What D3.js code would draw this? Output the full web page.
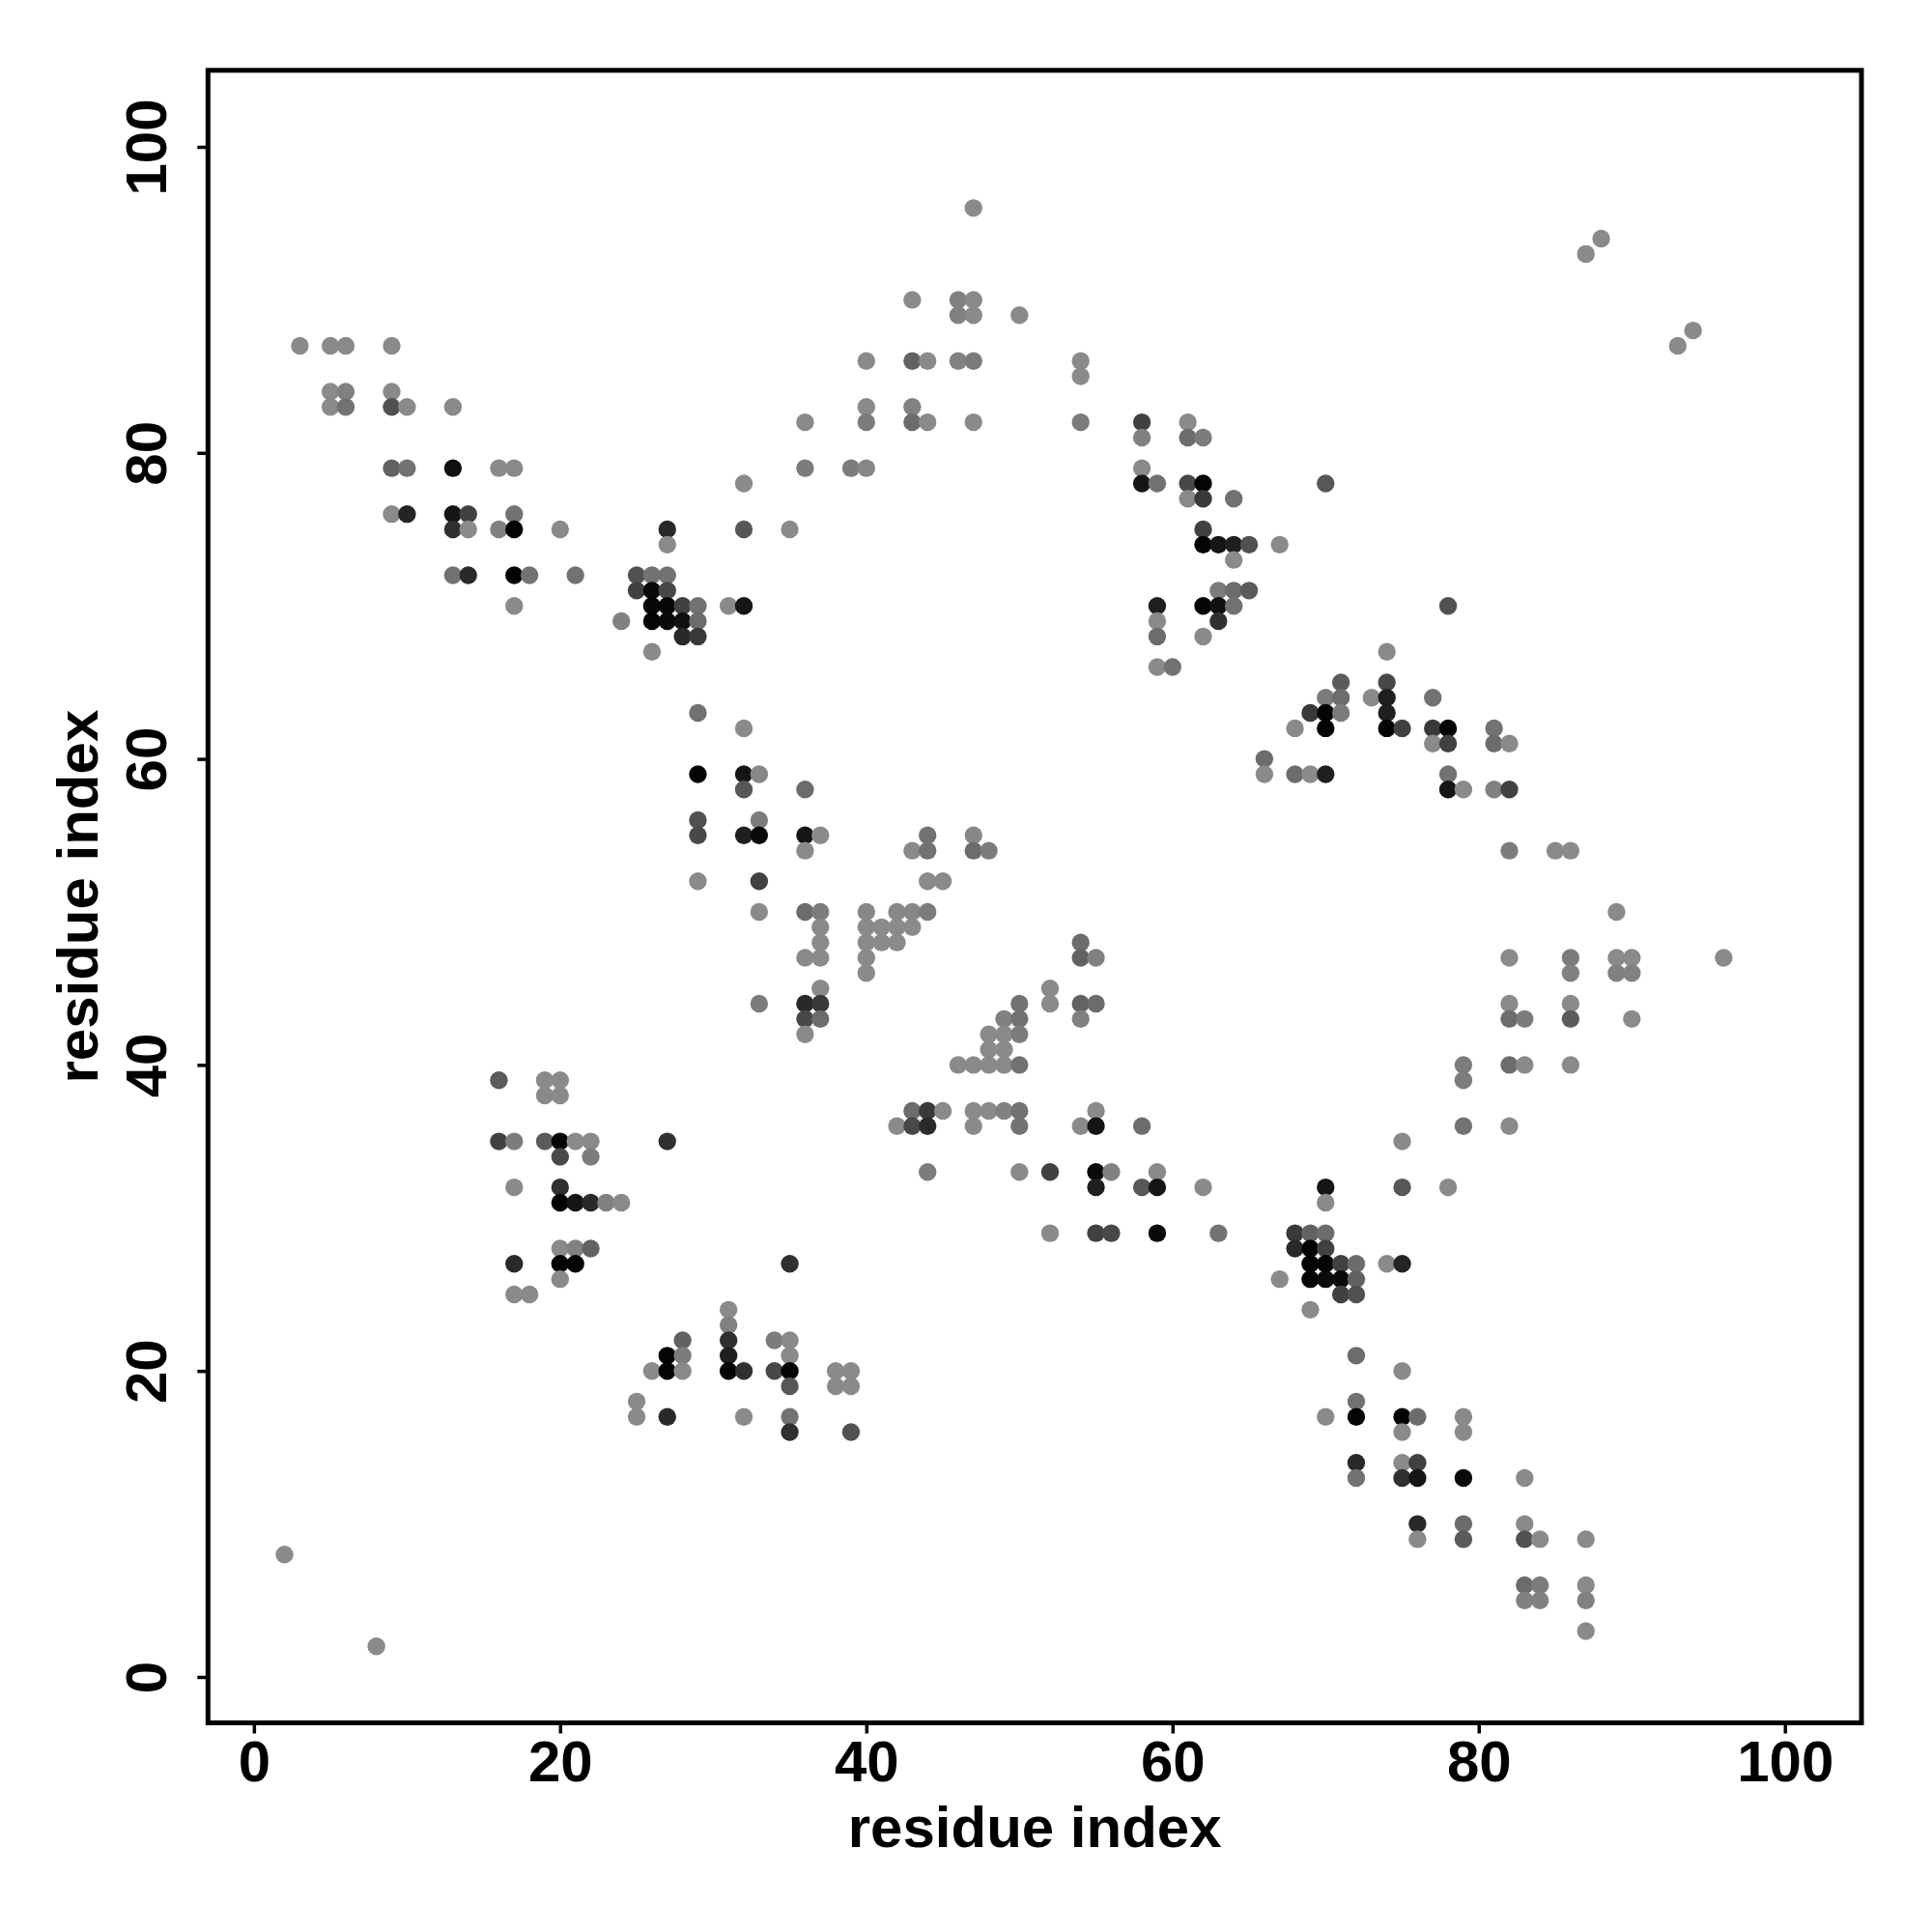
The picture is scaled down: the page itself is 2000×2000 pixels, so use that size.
<!DOCTYPE html>
<html>
<head>
<meta charset="utf-8">
<script src="https://cdn.jsdelivr.net/npm/d3@7"></script>
<style>
  html, body { margin: 0; padding: 0; background: #fff; }
  svg { display: block; }
  text { font-family: "Liberation Sans", Arial, Helvetica, sans-serif; font-weight: bold; }
</style>
</head>
<body>
<div id="chart"></div>
<script>
// residue i, residue j, contact score (0 = weak/light grey, 1 = strong/black)
const contacts = [
  [3,87,0.03],[5,87,0.03],[6,87,0.03],[9,87,0.03],
  [5,84,0.03],[6,84,0.09],[9,84,0.03],
  [5,83,0.03],[6,83,0.2],[9,83,0.43],[10,83,0.03],[13,83,0.03],
  [9,79,0.31],[10,79,0.2],[13,79,0.89],[16,79,0.03],[17,79,0.03],
  [9,76,0.03],[10,76,0.75],[13,76,0.85],[14,76,0.54],[17,76,0.2],
  [13,75,0.66],[14,75,0.03],[16,75,0.09],[17,75,0.97],[20,75,0.03],
  [13,72,0.2],[14,72,0.71],[17,72,0.97],[18,72,0.2],[21,72,0.2],
  [17,70,0.03],[24,69,0.09],
  [47,96,0.03],
  [43,90,0.03],[46,90,0.09],[47,90,0.03],
  [46,89,0.09],[47,89,0.03],
  [40,86,0.03],[43,86,0.31],[44,86,0.03],[46,86,0.09],[47,86,0.13],
  [40,83,0.03],[43,83,0.09],
  [36,82,0.03],[40,82,0.13],[43,82,0.24],[44,82,0.03],[47,82,0.03],
  [36,79,0.13],[39,79,0.13],[40,79,0.05],
  [32,78,0.03],
  [27,75,0.71],[32,75,0.39],[35,75,0.03],
  [27,74,0.03],
  [25,72,0.43],[26,72,0.2],[27,72,0.2],
  [25,71,0.54],[26,71,0.93],[27,71,0.49],
  [26,70,0.95],[27,70,0.95],[28,70,0.54],[29,70,0.2],[31,70,0.03],[32,70,0.85],
  [26,69,0.97],[27,69,0.93],[28,69,0.89],[29,69,0.24],
  [28,68,0.71],[29,68,0.6],
  [26,67,0.03],
  [50,89,0.03],[54,86,0.03],[54,85,0.03],
  [54,82,0.13],[58,82,0.54],[61,82,0.03],
  [58,81,0.09],[61,81,0.24],[62,81,0.13],
  [58,79,0.03],
  [58,78,0.85],[59,78,0.2],[61,78,0.49],[62,78,0.97],[70,78,0.39],
  [61,77,0.03],[62,77,0.6],[64,77,0.2],
  [62,75,0.54],
  [62,74,0.97],[63,74,0.85],[64,74,0.78],[65,74,0.43],[67,74,0.03],
  [64,73,0.03],
  [63,71,0.13],[64,71,0.24],[65,71,0.36],
  [59,70,0.78],[62,70,0.97],[63,70,0.89],[64,70,0.2],
  [59,69,0.03],[63,69,0.66],
  [59,68,0.24],[62,68,0.03],
  [59,66,0.03],[60,66,0.2],
  [71,65,0.36],
  [88,94,0.03],[87,93,0.03],[94,88,0.03],[93,87,0.03],
  [78,70,0.43],[74,67,0.03],[74,65,0.49],
  [16,39,0.36],[19,39,0.03],[20,39,0.03],
  [19,38,0.03],[20,38,0.03],
  [16,35,0.54],[17,35,0.13],[19,35,0.36],[20,35,0.97],[21,35,0.03],[22,35,0.03],
  [20,34,0.49],[22,34,0.13],
  [29,63,0.2],[32,62,0.03],
  [29,59,0.97],[32,59,0.85],[33,59,0.05],
  [32,58,0.39],[36,58,0.24],
  [29,56,0.43],[33,56,0.13],
  [29,55,0.49],[32,55,0.78],[33,55,0.93],[36,55,0.85],[37,55,0.03],
  [36,54,0.03],
  [44,55,0.2],[47,55,0.05],
  [43,54,0.03],[44,54,0.2],[47,54,0.24],[48,54,0.13],
  [29,52,0.03],[33,52,0.54],[44,52,0.03],[45,52,0.03],
  [33,50,0.03],[36,50,0.24],[37,50,0.13],[40,50,0.05],[42,50,0.05],[43,50,0.05],[44,50,0.13],
  [37,49,0.03],[40,49,0.03],[41,49,0.03],[42,49,0.03],[43,49,0.03],
  [37,48,0.03],[40,48,0.03],[41,48,0.03],[42,48,0.03],
  [36,47,0.03],[37,47,0.03],[40,47,0.03],
  [40,46,0.03],[37,45,0.03],
  [33,44,0.13],[36,44,0.71],[37,44,0.6],
  [36,43,0.49],[37,43,0.24],
  [36,42,0.03],
  [48,42,0.03],[48,41,0.03],[46,40,0.03],[47,40,0.03],[48,40,0.03],
  [43,37,0.24],[44,37,0.6],[45,37,0.03],[47,37,0.03],[48,37,0.03],
  [42,36,0.03],[43,36,0.49],[44,36,0.7],[47,36,0.03],
  [27,35,0.66],[44,33,0.13],
  [70,64,0.13],[71,64,0.24],[73,64,0.03],
  [69,63,0.6],[70,63,0.97],[71,63,0.13],
  [68,62,0.03],[70,62,0.97],
  [66,60,0.24],
  [66,59,0.03],[68,59,0.24],[69,59,0.03],[70,59,0.78],
  [54,48,0.24],[54,47,0.31],[55,47,0.09],
  [52,45,0.03],
  [52,44,0.03],[54,44,0.31],[55,44,0.24],
  [54,43,0.09],
  [50,44,0.2],[49,43,0.09],[50,43,0.2],
  [49,42,0.03],[50,42,0.13],
  [49,41,0.03],
  [49,40,0.03],[50,40,0.2],
  [49,37,0.09],[50,37,0.2],[50,36,0.2],
  [55,37,0.03],[54,36,0.03],[55,36,0.85],[58,36,0.24],
  [50,33,0.03],[52,33,0.54],[55,33,0.93],[56,33,0.09],[59,33,0.03],
  [74,64,0.78],[77,64,0.2],
  [74,63,0.78],
  [74,62,0.97],[75,62,0.54],[77,62,0.6],[78,62,0.97],[81,62,0.2],
  [77,61,0.03],[78,61,0.54],[81,61,0.24],[82,61,0.03],
  [78,59,0.2],
  [78,58,0.85],[79,58,0.03],[81,58,0.09],[82,58,0.54],
  [82,54,0.13],[85,54,0.03],[86,54,0.03],
  [89,50,0.03],
  [82,47,0.03],[86,47,0.13],[89,47,0.03],[90,47,0.03],[96,47,0.03],
  [86,46,0.09],[89,46,0.09],[90,46,0.09],
  [82,44,0.03],[86,44,0.03],
  [82,43,0.24],[83,43,0.13],[86,43,0.36],[90,43,0.03],
  [79,40,0.13],[82,40,0.24],[83,40,0.03],[86,40,0.03],
  [79,39,0.13],
  [79,36,0.2],[82,36,0.03],
  [75,35,0.03],
  [17,32,0.03],[20,32,0.66],
  [20,31,0.97],[21,31,0.85],[22,31,0.71],[23,31,0.09],[24,31,0.03],
  [20,28,0.03],[21,28,0.09],[22,28,0.31],
  [17,27,0.71],[20,27,0.97],[21,27,0.97],
  [20,26,0.03],
  [17,25,0.03],[18,25,0.03],
  [25,18,0.03],[25,17,0.03],
  [2,8,0.03],[8,2,0.03],
  [35,27,0.66],
  [31,24,0.03],[31,23,0.09],
  [28,22,0.31],[31,22,0.66],[34,22,0.13],[35,22,0.03],
  [27,21,0.97],[28,21,0.13],[31,21,0.78],[35,21,0.03],
  [26,20,0.03],[27,20,0.97],[28,20,0.03],[31,20,0.97],[32,20,0.66],[34,20,0.49],[35,20,0.97],[38,20,0.03],[39,20,0.03],
  [35,19,0.39],[38,19,0.03],[39,19,0.03],
  [27,17,0.71],[32,17,0.03],[35,17,0.2],
  [35,16,0.66],[39,16,0.43],
  [55,32,0.78],[58,32,0.39],[59,32,0.85],[62,32,0.03],[70,32,0.85],
  [70,31,0.03],
  [52,29,0.03],[55,29,0.54],[56,29,0.49],[59,29,0.93],[63,29,0.2],[68,29,0.6],[69,29,0.31],[70,29,0.24],
  [68,28,0.71],[69,28,0.97],[70,28,0.54],
  [69,27,0.97],[70,27,0.97],[71,27,0.54],[72,27,0.24],
  [67,26,0.03],[69,26,0.97],[70,26,0.93],[71,26,0.93],[72,26,0.31],
  [71,25,0.54],[72,25,0.43],
  [69,24,0.03],
  [72,21,0.24],[72,18,0.2],
  [70,17,0.03],[72,17,0.97],
  [72,14,0.71],[72,13,0.2],
  [75,32,0.39],[78,32,0.03],
  [74,27,0.03],[75,27,0.75],
  [75,20,0.03],
  [75,17,0.97],[76,17,0.24],[79,17,0.03],
  [75,16,0.03],[79,16,0.03],
  [75,14,0.03],[76,14,0.54],
  [75,13,0.66],[76,13,0.85],[79,13,0.93],[83,13,0.03],
  [76,10,0.71],[79,10,0.24],[83,10,0.03],
  [76,9,0.03],[79,9,0.36],[83,9,0.43],[84,9,0.03],[87,9,0.03],
  [83,6,0.24],[84,6,0.13],[87,6,0.03],
  [83,5,0.09],[84,5,0.09],[87,5,0.09],
  [87,3,0.03]
];
const xTicks = [0, 20, 40, 60, 80, 100];
const yTicks = [0, 20, 40, 60, 80, 100];
const xLabel = "residue index";
const yLabel = "residue index";

const W = 2000, H = 2000;
const svg = d3.select("#chart").append("svg").attr("width", W).attr("height", H);

const x = d3.scaleLinear().domain([-3, 105]).range([215.3, 1927]);
const y = d3.scaleLinear().domain([-3, 105]).range([1783.5, 72.8]);
const shade = d3.scaleLinear().domain([0, 1]).range(["#8e8e8e", "#000000"]);

// points
svg.append("g").selectAll("circle").data(contacts).join("circle")
  .attr("cx", d => x(d[0]))
  .attr("cy", d => y(d[1]))
  .attr("r", 9.2)
  .attr("fill", d => shade(d[2]));

// x axis
const gx = svg.append("g").attr("transform", `translate(0,${y.range()[0]})`)
  .call(d3.axisBottom(x).tickValues(xTicks).tickSize(11).tickPadding(7).tickFormat(d3.format("d")));
gx.select(".domain").remove();
gx.selectAll(".tick line").attr("stroke", "#000").attr("stroke-width", 3.5);
gx.selectAll(".tick text").attr("font-size", 60).attr("fill", "#000")
  .attr("font-family", '"Liberation Sans", Arial, sans-serif').attr("font-weight", "bold");

// y axis
const gy = svg.append("g").attr("transform", `translate(${x.range()[0]},0)`)
  .call(d3.axisLeft(y).tickValues(yTicks).tickSize(11).tickFormat(d3.format("d")));
gy.select(".domain").remove();
gy.selectAll(".tick line").attr("stroke", "#000").attr("stroke-width", 3.5);
gy.selectAll(".tick text")
  .attr("transform", "rotate(-90)")
  .attr("x", 0).attr("y", -43).attr("dy", 0)
  .attr("text-anchor", "middle")
  .attr("font-size", 60).attr("fill", "#000")
  .attr("font-family", '"Liberation Sans", Arial, sans-serif').attr("font-weight", "bold");

// box
svg.append("rect")
  .attr("x", x.range()[0]).attr("y", y.range()[1])
  .attr("width", x.range()[1] - x.range()[0])
  .attr("height", y.range()[0] - y.range()[1])
  .attr("fill", "none").attr("stroke", "#000").attr("stroke-width", 5);

// titles
svg.append("text").attr("x", (x.range()[0] + x.range()[1]) / 2).attr("y", 1912)
  .attr("text-anchor", "middle").attr("font-size", 60).attr("fill", "#000").text(xLabel);
svg.append("text")
  .attr("transform", `translate(101,${(y.range()[0] + y.range()[1]) / 2}) rotate(-90)`)
  .attr("text-anchor", "middle").attr("font-size", 60).attr("fill", "#000").text(yLabel);
</script>
</body>
</html>
